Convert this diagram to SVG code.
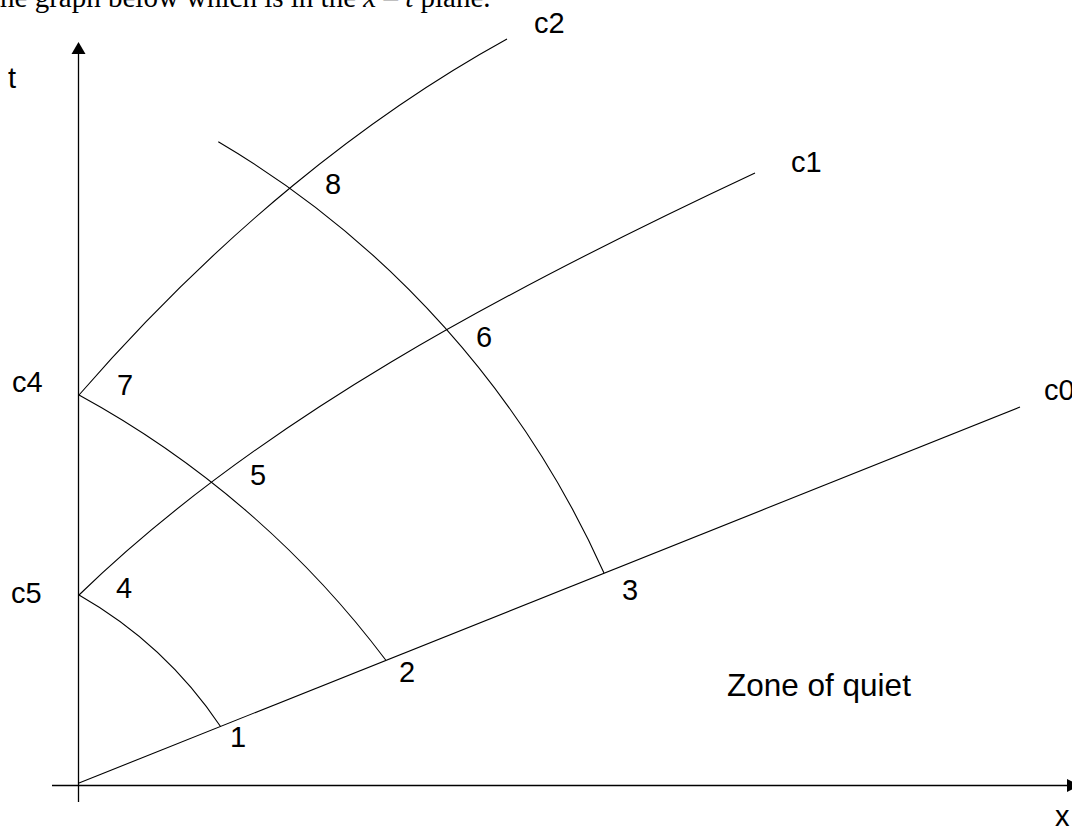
<svg xmlns="http://www.w3.org/2000/svg" width="1072" height="829" viewBox="0 0 1072 829">
  <style>
    .ax { stroke: #000; stroke-width: 1.3; fill: none; }
    .cv { stroke: #000; stroke-width: 1.1; fill: none; }
    .lb { font-family: "Liberation Sans", Arial, sans-serif; font-size: 29px; fill: #000; }
    .zq { font-family: "Liberation Sans", Arial, sans-serif; font-size: 31.5px; fill: #000; }
    .top { font-family: "Liberation Serif", "Times New Roman", serif; font-size: 29px; fill: #000; }
  </style>
  <rect width="1072" height="829" fill="#fff"/>
  <text class="top" x="-8" y="7">the graph below which is in the <tspan font-style="italic">x</tspan> – <tspan font-style="italic">t</tspan> plane.</text>

  <g id="axes">
    <line class="ax" x1="78.5" y1="802" x2="78.5" y2="52"/>
    <polygon points="78.5,42 71.5,54 85.5,54" fill="#000"/>
    <line class="ax" x1="52" y1="785.5" x2="1070" y2="785.5"/>
    <polygon points="1080,785.5 1067,779 1067,792" fill="#000"/>
    <text class="lb" x="8" y="88">t</text>
    <text class="lb" x="1055" y="826">x</text>
  </g>

  <g id="connectors">
    <line id="c0-line" class="cv" x1="79" y1="783" x2="1020" y2="407"/>
    <path id="c1-curve" class="cv" d="M79,595 C259,420 505,290 755,173"/>
    <path id="c2-curve" class="cv" d="M79,395 C219,234 367,116 507,39"/>
    <path id="arc-8-6-3" class="cv" d="M218.3,141.7 A953,953 0 0 1 604,573"/>
    <path id="arc-7-5-2" class="cv" d="M79,395 A958,958 0 0 1 385.7,660"/>
    <path id="arc-4-1" class="cv" d="M79,595 A422,422 0 0 1 220.7,726.7"/>
  </g>

  <g id="node-c0"><text class="lb" x="1044" y="400">c0</text></g>
  <g id="node-c1"><text class="lb" x="791" y="172">c1</text></g>
  <g id="node-c2"><text class="lb" x="534" y="33">c2</text></g>
  <g id="node-c4"><text class="lb" x="12" y="392">c4</text></g>
  <g id="node-c5"><text class="lb" x="11" y="603">c5</text></g>
  <g id="node-1"><text class="lb" x="230" y="747">1</text></g>
  <g id="node-2"><text class="lb" x="399" y="682">2</text></g>
  <g id="node-3"><text class="lb" x="622" y="600">3</text></g>
  <g id="node-4"><text class="lb" x="116" y="598">4</text></g>
  <g id="node-5"><text class="lb" x="250" y="485">5</text></g>
  <g id="node-6"><text class="lb" x="476" y="347">6</text></g>
  <g id="node-7"><text class="lb" x="117" y="395">7</text></g>
  <g id="node-8"><text class="lb" x="325" y="194">8</text></g>
  <g id="zone"><text class="zq" x="727" y="696">Zone of quiet</text></g>
</svg>
